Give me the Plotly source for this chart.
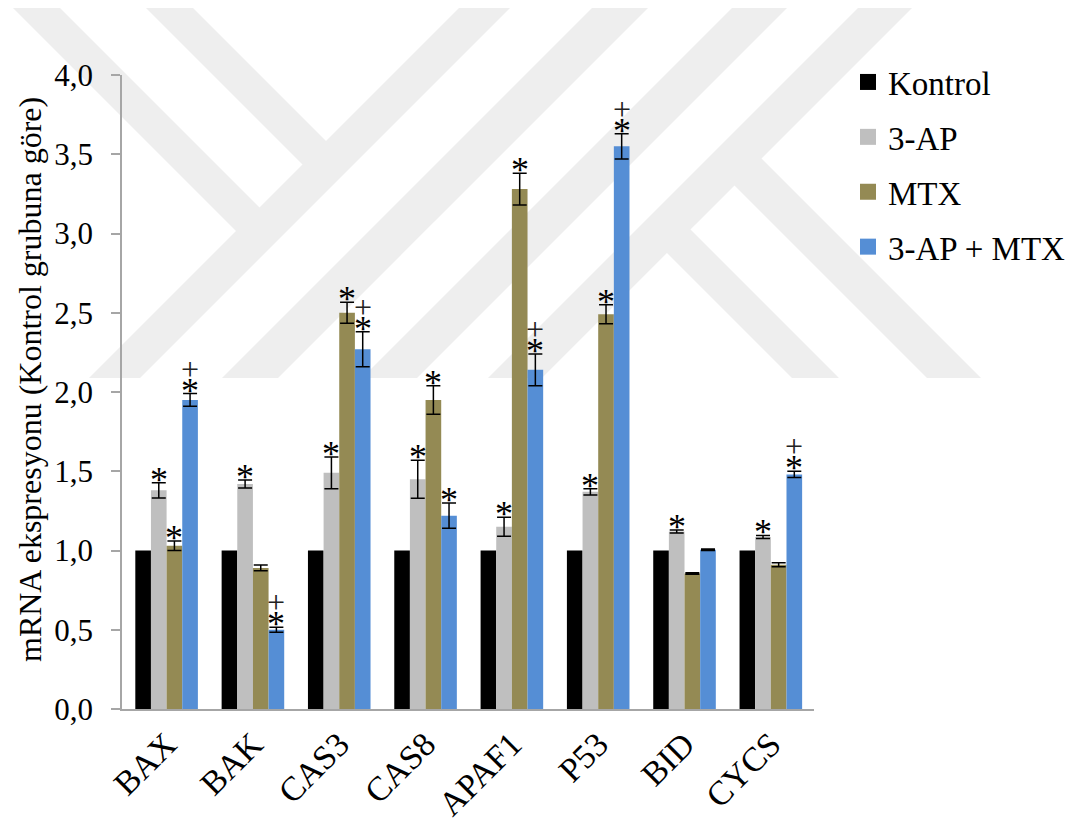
import plotly.graph_objects as go

# Gene panel and relative mRNA expression (fold change vs. Kontrol group)
genes = ["BAX", "BAK", "CAS3", "CAS8", "APAF1", "P53", "BID", "CYCS"]

kontrol = [1.0, 1.0, 1.0, 1.0, 1.0, 1.0, 1.0, 1.0]

ap3 = [1.38, 1.42, 1.49, 1.45, 1.15, 1.37, 1.12, 1.085]
ap3_err = [0.048, 0.025, 0.10, 0.12, 0.06, 0.02, 0.01, 0.01]

mtx = [1.03, 0.89, 2.50, 1.95, 3.28, 2.49, 0.855, 0.91]
mtx_err = [0.03, 0.018, 0.066, 0.09, 0.10, 0.06, 0.005, 0.012]

combo = [1.95, 0.50, 2.27, 1.22, 2.14, 3.55, 1.005, 1.48]
combo_err = [0.04, 0.015, 0.11, 0.08, 0.10, 0.08, 0.005, 0.02]

# significance flags: "*" vs Kontrol, "+" vs 3-AP / MTX alone
ap3_star = [1, 1, 1, 1, 1, 1, 1, 1]
mtx_star = [1, 0, 1, 1, 1, 1, 0, 0]
combo_star = [1, 1, 1, 1, 1, 1, 0, 1]
combo_plus = [1, 1, 1, 0, 1, 1, 0, 1]

series_names = ["Kontrol", "3-AP", "MTX", "3-AP + MTX"]
series_colors = ["#000000", "#BFBFBF", "#948A54", "#558ED5"]
y_title = "mRNA ekspresyonu (Kontrol grubuna göre)"

W, H = 1076, 830
ML, MR, MT, MB = 122, 262, 75, 121
PW, PH = W - ML - MR, H - MT - MB
BARGAP = 0.275
FONT = "'Liberation Serif', 'Times New Roman', serif"

fig = go.Figure()

series = [
    (kontrol, None),
    (ap3, ap3_err),
    (mtx, mtx_err),
    (combo, combo_err),
]
for (vals, err), name, color in zip(series, series_names, series_colors):
    fig.add_trace(go.Bar(
        x=genes, y=vals, name=name,
        marker=dict(color=color, line=dict(width=0)),
        error_y=(dict(type="data", array=err, visible=True, color="#000000",
                      thickness=1.5, width=7) if err is not None else None),
        showlegend=False,
    ))

# legend keys drawn as square markers
for i, (name, color) in enumerate(zip(series_names, series_colors)):
    fig.add_trace(go.Scatter(
        x=[genes[0]], y=[None], mode="markers", name=name,
        marker=dict(symbol="square", size=16, color=color),
        legendgroup=f"g{i}", showlegend=True, hoverinfo="skip",
    ))

# significance marks above the error bars
bar_px = PW / len(genes) * (1 - BARGAP) / 4
STAR_SIZE, PLUS_SIZE = 36, 32
annotations = []
for si, (vals, err, stars) in enumerate([(ap3, ap3_err, ap3_star),
                                        (mtx, mtx_err, mtx_star),
                                        (combo, combo_err, combo_star)], start=1):
    dx = (si - 1.5) * bar_px
    for g, v, e, s in zip(genes, vals, err, stars):
        if s:
            annotations.append(dict(
                x=g, y=v + e, xref="x", yref="y", text="*", showarrow=False,
                xshift=dx, yanchor="bottom", yshift=-19,
                font=dict(family=FONT, size=STAR_SIZE, color="#000000"),
            ))
dx = 1.5 * bar_px
for g, v, e, p in zip(genes, combo, combo_err, combo_plus):
    if p:
        annotations.append(dict(
            x=g, y=v + e, xref="x", yref="y", text="+", showarrow=False,
            xshift=dx, yanchor="bottom", yshift=5,
            font=dict(family=FONT, size=PLUS_SIZE, color="#222222"),
        ))

# vertical axis title, set slightly above the axis midpoint
annotations.append(dict(
    text=y_title, textangle=-90, showarrow=False,
    xref="paper", yref="paper", x=(30 - ML) / PW, y=(H - MB - 380) / PH,
    xanchor="center", yanchor="middle",
    font=dict(family=FONT, size=32, color="#000000"),
))


# background emblem made of light diagonal bands (pixel geometry -> paper)
def to_paper(pts):
    return [((x - ML) / PW, (H - MB - y) / PH) for x, y in pts]


def path_of(pts):
    p = to_paper(pts)
    return "M " + " L ".join(f"{x:.4f},{y:.4f}" for x, y in p) + " Z"


YT, YB = 8, 378
slash_bands = [(467, 518), (600, 656), (740, 795), (866, 920)]
left_back = [(5, 52), (138, 185)]
left_stop = 492
k_legs = [(414, 461), (549, 603)]
k_start = 893

polys = []
for s1, s2 in slash_bands:
    polys.append([(s1 - YT, YT), (s2 - YT, YT), (s2 - YB, YB), (s1 - YB, YB)])
for d1, d2 in left_back:
    s = left_stop
    polys.append([(d1 + YT, YT), (d2 + YT, YT),
                  ((s + d2) / 2, (s - d2) / 2), ((s + d1) / 2, (s - d1) / 2)])
for d1, d2 in k_legs:
    s = k_start
    polys.append([((s + d1) / 2, (s - d1) / 2), ((s + d2) / 2, (s - d2) / 2),
                  (d2 + YB, YB), (d1 + YB, YB)])

shapes = [dict(type="path", path=path_of(p), xref="paper", yref="paper",
               fillcolor="#EEEEEE", line=dict(width=0), layer="below")
          for p in polys]

fig.update_layout(
    width=W, height=H,
    margin=dict(l=ML, r=MR, t=MT, b=MB, autoexpand=False),
    paper_bgcolor="#FFFFFF", plot_bgcolor="rgba(0,0,0,0)",
    barmode="group", bargap=BARGAP, bargroupgap=0,
    separators=", ",
    font=dict(family=FONT, color="#000000"),
    shapes=shapes,
    annotations=annotations,
    legend=dict(
        x=(848 - ML) / PW, y=(H - MB - 54) / PH, xanchor="left", yanchor="top",
        font=dict(family=FONT, size=33, color="#000000"),
        bgcolor="rgba(0,0,0,0)", tracegroupgap=9, itemwidth=30,
    ),
    xaxis=dict(
        showline=True, linecolor="#A6A6A6", linewidth=1.5, ticks="",
        tickangle=-45, tickfont=dict(family=FONT, size=34, color="#000000"),
        showgrid=False, zeroline=False,
    ),
    yaxis=dict(
        range=[0, 4], dtick=0.5, tick0=0, tickformat=".1f",
        showline=True, linecolor="#A6A6A6", linewidth=1.5,
        ticks="outside", ticklen=9, tickwidth=1.5, tickcolor="#A6A6A6",
        ticklabelstandoff=12,
        tickfont=dict(family=FONT, size=31, color="#000000"),
        showgrid=False, zeroline=False,
    ),
)

fig.write_html("out.html")
